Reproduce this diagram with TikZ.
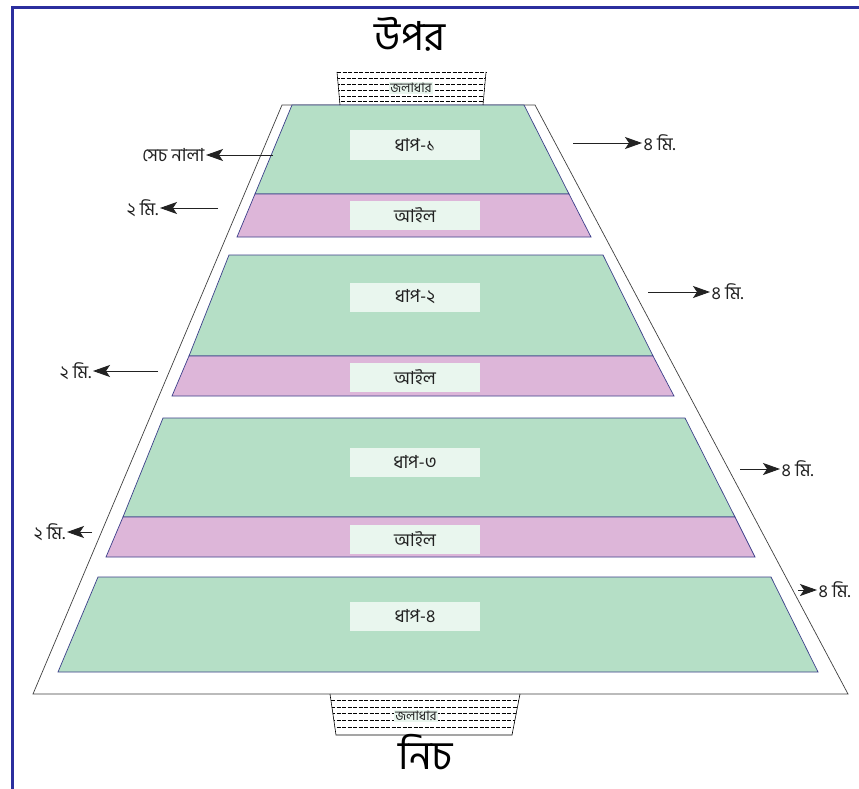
\documentclass[tikz,border=0pt]{standalone}
\usepackage{fontspec}
\newfontfamily\bn[Script=Bengali]{Hind Siliguri}
\usetikzlibrary{arrows.meta}
\definecolor{terr}{HTML}{B5DFC6}
\definecolor{ail}{HTML}{DDB6D9}
\definecolor{lab}{HTML}{E9F6EE}
\definecolor{framec}{HTML}{2B2F9E}
\definecolor{edgec}{HTML}{3C3F8A}
\definecolor{txt}{HTML}{222222}
\begin{document}
\begin{tikzpicture}[x=1pt,y=-1pt,
  terrace/.style={fill=terr,draw=edgec,line width=0.7pt},
  ailband/.style={fill=ail,draw=edgec,line width=0.7pt},
  labbox/.style={fill=lab,minimum width=130pt,minimum height=29pt,inner sep=0pt,font=\bn\fontsize{18}{20}\selectfont,text=txt},
  side/.style={font=\bn\fontsize{18}{20}\selectfont,text=txt,inner sep=1.5pt},
  arr/.style={-{Stealth[length=17pt,width=12pt,inset=4pt]},line width=0.9pt,draw=txt},
  resv/.style={draw=black,line width=0.6pt},
  dashline/.style={draw=black,dashed,dash pattern=on 4pt off 1.5pt,line width=0.5pt},
  jlabel/.style={fill=lab,inner sep=1.5pt,font=\bn\fontsize{13}{14}\selectfont,text=txt},
  title/.style={font=\bn\fontsize{40}{44}\selectfont,text=black,anchor=base,inner sep=0pt}
]
\useasboundingbox (0,0) rectangle (859,789);
\fill[white] (0,0) rectangle (859,789);
% frame
\draw[framec,line width=3pt] (12,789) -- (12,8) -- (859,8);
% outer trapezoid
\draw[draw=black!75,line width=0.7pt,fill=white] (282,105) -- (535,105) -- (848,694) -- (33,694) -- cycle;
% terrace 1
\draw[terrace] (292,105) -- (524,105) -- (569,194) -- (255,194) -- cycle;
\draw[ailband] (255,194) -- (569,194) -- (591,237) -- (237,237) -- cycle;
% terrace 2
\draw[terrace] (229,255) -- (603,255) -- (653,356) -- (189,356) -- cycle;
\draw[ailband] (189,356) -- (653,356) -- (674,396) -- (172,396) -- cycle;
% terrace 3
\draw[terrace] (163,418) -- (685,418) -- (735,517) -- (123,517) -- cycle;
\draw[ailband] (123,517) -- (735,517) -- (755,557) -- (106,557) -- cycle;
% terrace 4
\draw[terrace] (98,577) -- (771,577) -- (818,672) -- (58,672) -- cycle;
% labels
\node[labbox] (d1) at (415,145) {ধাপ-১};
\node[labbox] (a1) at (415,215) {আইল};
\node[labbox] (d2) at (415,297) {ধাপ-২};
\node[labbox] (a2) at (415,377) {আইল};
\node[labbox] (d3) at (415,462) {ধাপ-৩};
\node[labbox] (a3) at (415,539) {আইল};
\node[labbox] (d4) at (415,616) {ধাপ-৪};
% top reservoir
\begin{scope}
\clip (337,72) -- (486,72) -- (483,105) -- (340,105) -- cycle;
\foreach \yy in {78,84,90,96,101} \draw[dashline] (330,\yy) -- (495,\yy);
\end{scope}
\draw[dashline] (337,72) -- (486,72);
\draw[resv] (337,72) -- (340,105) (486,72) -- (483,105);
\node[jlabel] (j1) at (411,88) {জলাধার};
% bottom reservoir
\begin{scope}
\clip (330,694) -- (520,694) -- (512,735) -- (336,735) -- cycle;
\foreach \yy in {700,707,713,720,727} \draw[dashline] (320,\yy) -- (530,\yy);
\end{scope}
\draw[resv] (330,694) -- (336,735) -- (512,735) -- (520,694);
\node[jlabel] (j2) at (416,716) {জলাধার};
% titles
\node[title] (top) at (410,51) {উপর};
\node[title] (bot) at (426,769) {নিচ};
% arrows left
\coordinate (s1) at (273,155);
\node[side,anchor=east] (t1) at (206,155) {সেচ নালা};
\draw[arr] (s1) -- (t1.east);
\coordinate (s2) at (218,208);
\node[side,anchor=east] (t2) at (160,208) {২ মি.};
\draw[arr] (s2) -- (t2.east);
\coordinate (s3) at (158,371);
\node[side,anchor=east] (t3) at (93,371) {২ মি.};
\draw[arr] (s3) -- (t3.east);
\coordinate (s4) at (92,532);
\node[side,anchor=east] (t4) at (67,532) {২ মি.};
\draw[arr] (s4) -- (t4.east);
% arrows right
\coordinate (r1) at (573,143);
\node[side,anchor=west] (u1) at (642,143) {৪ মি.};
\draw[arr] (r1) -- (u1.west);
\coordinate (r2) at (648,292);
\node[side,anchor=west] (u2) at (710,292) {৪ মি.};
\draw[arr] (r2) -- (u2.west);
\coordinate (r3) at (740,469);
\node[side,anchor=west] (u3) at (780,469) {৪ মি.};
\draw[arr] (r3) -- (u3.west);
\coordinate (r4) at (798,590);
\node[side,anchor=west] (u4) at (817,590) {৪ মি.};
\draw[arr] (r4) -- (u4.west);
\end{tikzpicture}
\end{document}
